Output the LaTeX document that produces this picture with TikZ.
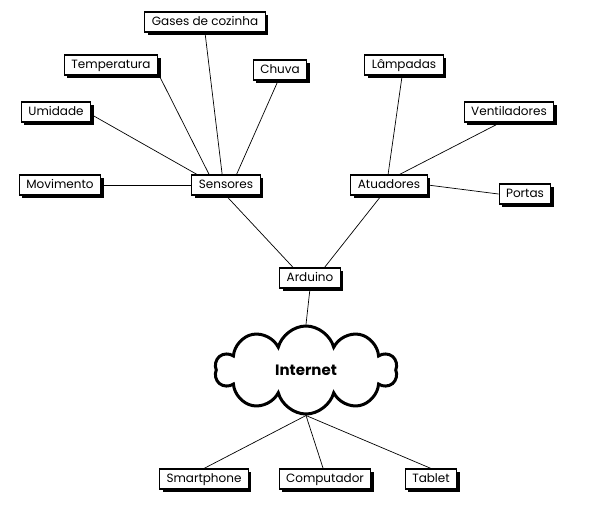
\documentclass[tikz,border=0pt]{standalone}
\usepackage{fontspec}
\setmainfont{Poppins}
\usetikzlibrary{shapes.symbols,shadows}
\tikzset{
  caixa/.style={draw,fill=white,line width=1.1pt,inner xsep=7pt,minimum height=20pt,
    text height=9pt,text depth=2.5pt,font=\fontsize{12}{14}\selectfont,
    drop shadow={shadow xshift=3pt,shadow yshift=-3pt,fill=black,opacity=1}},
  liga/.style={line width=0.7pt}
}
\begin{document}
\begin{tikzpicture}[x=1pt,y=-1pt]
  \useasboundingbox (0,0) rectangle (597,512);
  \node[caixa] (gases) at (205,22) {Gases de cozinha};
  \node[caixa] (temperatura) at (111,65) {Temperatura};
  \node[caixa] (chuva) at (280,70) {Chuva};
  \node[caixa] (umidade) at (56,112) {Umidade};
  \node[caixa] (movimento) at (60,185) {Movimento};
  \node[caixa] (sensores) at (226,185) {Sensores};
  \node[caixa] (lampadas) at (404,65) {Lâmpadas};
  \node[caixa] (ventiladores) at (509,112) {Ventiladores};
  \node[caixa] (atuadores) at (389,185) {Atuadores};
  \node[caixa] (portas) at (525,194) {Portas};
  \node[caixa] (arduino) at (310,278) {Arduino};
  \node[cloud,cloud puffs=10,aspect=2.1,draw,line width=3pt,minimum width=182pt,minimum height=88pt,
    font=\bfseries\fontsize{15}{17}\selectfont] (internet) at (306,370) {Internet};
  \node[caixa] (smartphone) at (204,479) {Smartphone};
  \node[caixa] (computador) at (325,479) {Computador};
  \node[caixa] (tablet) at (431,479) {Tablet};
  \draw[liga] (gases.south) -- (sensores.110);
  \draw[liga] (temperatura.-10) -- (sensores.148);
  \draw[liga] (chuva.260) -- (sensores.45);
  \draw[liga] (umidade.-4) -- (sensores.160);
  \draw[liga] (movimento.east) -- (sensores.west);
  \draw[liga] (lampadas.260) -- (atuadores.95);
  \draw[liga] (ventiladores.231) -- (atuadores.45);
  \draw[liga] (portas.west) -- (atuadores.east);
  \draw[liga] (sensores.south) -- (arduino.148);
  \draw[liga] (atuadores.234) -- (arduino.36);
  \draw[liga] (arduino.south) -- (internet.north);
  \draw[liga] (internet.south) -- (smartphone.north);
  \draw[liga] (internet.south) -- (computador.100);
  \draw[liga] (internet.south) -- (tablet.north);
\end{tikzpicture}
\end{document}
